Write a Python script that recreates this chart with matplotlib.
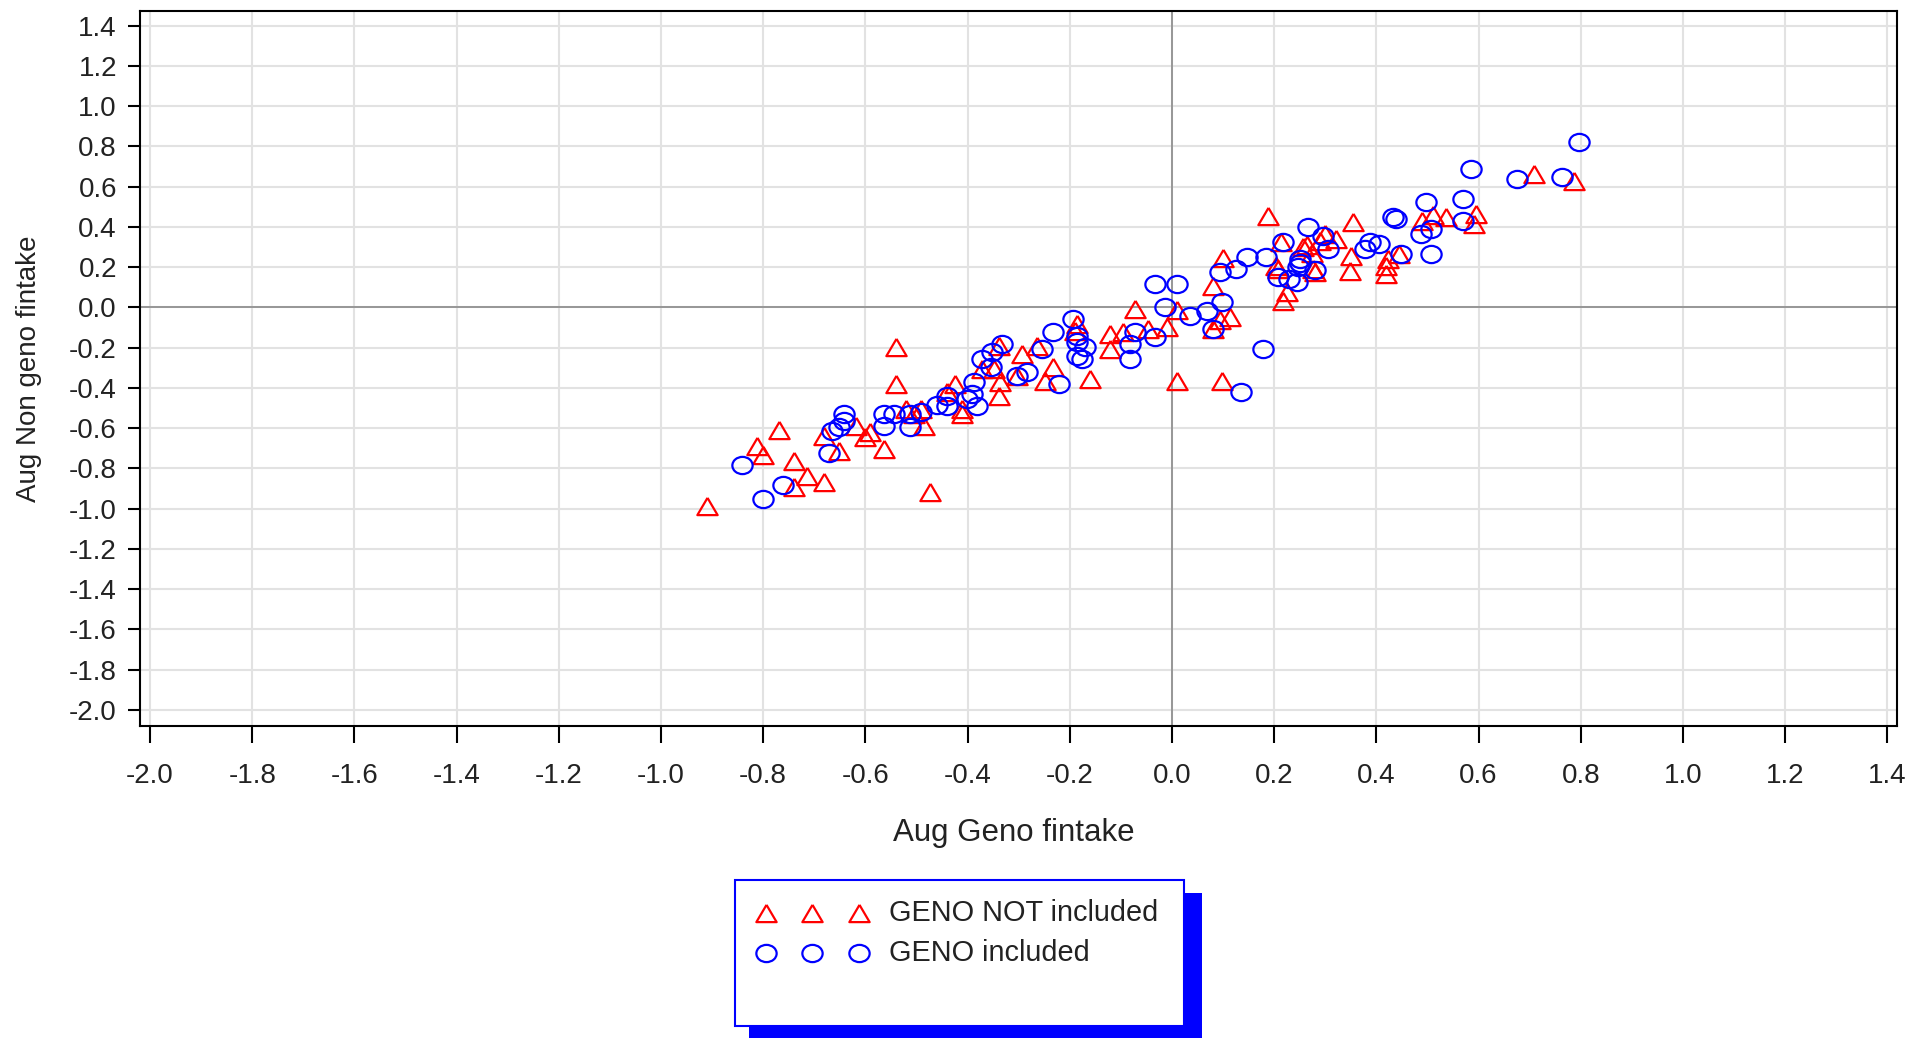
import matplotlib.pyplot as plt
import numpy as np
from matplotlib.path import Path
from matplotlib.patches import Rectangle

# GENO NOT included (red triangles)
tri_x = [-0.910, -0.812, -0.801, -0.770, -0.740, -0.714, -0.681, -0.740, -0.541, -0.541,
         -0.473, -0.564, -0.652, -0.681, -0.600, -0.590, -0.619, -0.486, -0.492, -0.411,
         -0.440, -0.424, -0.372, -0.339, -0.294, -0.264, -0.232, -0.336, -0.348, -0.303,
         -0.521, -0.505, -0.411, -0.072, -0.121, -0.095, -0.121, -0.046, -0.010, 0.009,
         -0.160, 0.009, 0.097, 0.113, 0.081, 0.094, 0.081, 0.100, 0.217, 0.225,
         0.208, 0.276, -0.248, -0.339, -0.186, -0.190, 0.709, 0.787, 0.188, 0.355,
         0.536, 0.595, 0.591, 0.490, 0.510, 0.214, 0.204, 0.256, 0.279, 0.299,
         0.321, 0.275, 0.348, 0.351, 0.419, 0.418, 0.423, 0.445, 0.265, 0.290]
tri_y = [-0.985, -0.687, -0.733, -0.609, -0.761, -0.835, -0.868, -0.893, -0.198, -0.380,
         -0.918, -0.703, -0.711, -0.637, -0.645, -0.620, -0.587, -0.587, -0.504, -0.529,
         -0.421, -0.380, -0.305, -0.190, -0.231, -0.190, -0.297, -0.372, -0.305, -0.339,
         -0.504, -0.529, -0.505, -0.007, -0.132, -0.124, -0.206, -0.107, -0.099, -0.013,
         -0.355, -0.364, -0.364, -0.049, -0.107, -0.060, 0.108, 0.245, 0.034, 0.075,
         0.191, 0.191, -0.364, -0.438, -0.082, -0.116, 0.663, 0.630, 0.456, 0.423,
         0.448, 0.464, 0.415, 0.431, 0.460, 0.324, 0.208, 0.299, 0.175, 0.365,
         0.340, 0.270, 0.183, 0.257, 0.208, 0.165, 0.240, 0.266, 0.310, 0.330]

# GENO included (blue circles)
cir_x = [-0.842, -0.801, -0.762, -0.671, -0.665, -0.652, -0.642, -0.642, -0.564, -0.564,
         -0.544, -0.512, -0.512, -0.492, -0.460, -0.440, -0.440, -0.391, -0.388, -0.372,
         -0.401, -0.333, -0.352, -0.354, -0.303, -0.284, -0.222, -0.232, -0.193, -0.186,
         -0.186, -0.033, 0.009, -0.014, 0.035, 0.068, 0.097, 0.081, -0.033, -0.082,
         -0.082, -0.072, 0.178, 0.136, 0.094, 0.126, 0.146, 0.185, 0.207, 0.244,
         0.250, -0.186, -0.176, -0.170, -0.255, -0.381, 0.797, 0.585, 0.676, 0.764,
         0.569, 0.497, 0.569, 0.507, 0.488, 0.507, 0.432, 0.439, 0.449, 0.406,
         0.387, 0.377, 0.266, 0.296, 0.306, 0.250, 0.247, 0.279, 0.217, 0.230]
cir_y = [-0.781, -0.951, -0.880, -0.723, -0.612, -0.595, -0.529, -0.562, -0.529, -0.587,
         -0.529, -0.529, -0.595, -0.521, -0.484, -0.488, -0.438, -0.429, -0.372, -0.256,
         -0.455, -0.181, -0.223, -0.297, -0.339, -0.322, -0.380, -0.123, -0.057, -0.141,
         -0.240, 0.117, 0.117, 0.004, -0.041, -0.016, 0.026, -0.107, -0.148, -0.182,
         -0.256, -0.124, -0.206, -0.421, 0.175, 0.190, 0.249, 0.249, 0.150, 0.128,
         0.220, -0.173, -0.256, -0.196, -0.206, -0.488, 0.820, 0.688, 0.638, 0.647,
         0.539, 0.523, 0.431, 0.390, 0.365, 0.266, 0.448, 0.440, 0.266, 0.315,
         0.323, 0.290, 0.398, 0.357, 0.290, 0.241, 0.200, 0.185, 0.324, 0.142]

ticks = np.round(np.arange(-2.0, 1.41, 0.2), 1) + 0.0
tick_labels = [f"{t:.1f}" for t in ticks]
legend_labels = ["GENO NOT included", "GENO included"]

plt.rcParams['font.family'] = ['Liberation Sans', 'DejaVu Sans']
plt.rcParams['axes.unicode_minus'] = False
txt = '#222222'

# marker shapes: flat triangle and slightly wide circle
tri_marker = Path([(0, 0.85), (-1, -0.85), (1, -0.85), (0, 0.85)])
uc = Path.unit_circle()
cir_marker = Path(uc.vertices * np.array([1.0, 0.85]), uc.codes)

W, H = 1909, 1038
fig = plt.figure(figsize=(W / 100, H / 100), dpi=100)
L, R, T, B = 140, 1896.7, 11, 725.7
ax = fig.add_axes([L / W, 1 - B / H, (R - L) / W, (B - T) / H])

ax.set_xlim(-2.0196, 1.4184)
ax.set_ylim(-2.078, 1.473)
ax.set_xticks(ticks)
ax.set_xticklabels(tick_labels)
ax.set_yticks(ticks)
ax.set_yticklabels(tick_labels)
ax.grid(True, color='#e2e2e2', lw=1.5, zorder=0)
ax.set_axisbelow(True)
ax.axhline(0, color='#8a8a8a', lw=1.2, zorder=1)
ax.axvline(0, color='#8a8a8a', lw=1.2, zorder=1)

ax.plot(tri_x, tri_y, ls='none', marker=tri_marker, ms=14.6, mfc='none',
        mec='#ff0000', mew=1.6, zorder=3)
ax.plot(cir_x, cir_y, ls='none', marker=cir_marker, ms=14.6, mfc='none',
        mec='#0000ff', mew=1.6, zorder=3)

for s in ax.spines.values():
    s.set_linewidth(1.5)
    s.set_color('black')
ax.tick_params(axis='x', length=12.2, width=1.5, pad=15, labelsize=20, labelcolor=txt)
ax.tick_params(axis='y', length=8.6, width=1.5, pad=8, labelsize=20, labelcolor=txt)

ax.set_xlabel('Aug Geno fintake', fontsize=22.5, color=txt)
ax.xaxis.set_label_coords((1014 - L) / (R - L), (B - 818) / (B - T))
ax.set_ylabel('Aug Non geno fintake', fontsize=20, color=txt)
ax.yaxis.set_label_coords((42 - L) / (R - L), 0.5)

# legend box with solid blue drop shadow, laid out in pixel units
lax = fig.add_axes([0, 0, 1, 1])
lax.set_xlim(0, W)
lax.set_ylim(H, 0)
lax.axis('off')
lax.add_patch(Rectangle((749, 893), 453, 150, facecolor='#0000ff', edgecolor='none'))
lax.add_patch(Rectangle((735, 880), 449, 146, facecolor='white', edgecolor='#0000ff', lw=1.5))
mx = [766, 812, 859]
lax.plot(mx, [913] * 3, ls='none', marker=tri_marker, ms=14.6, mfc='none',
         mec='#ff0000', mew=1.6)
lax.plot(mx, [953] * 3, ls='none', marker=cir_marker, ms=14.6, mfc='none',
         mec='#0000ff', mew=1.6)
lax.text(889, 913, legend_labels[0], fontsize=20.8, color=txt, va='center', ha='left')
lax.text(889, 953, legend_labels[1], fontsize=20.8, color=txt, va='center', ha='left')

fig.savefig('out.png', dpi=100)
